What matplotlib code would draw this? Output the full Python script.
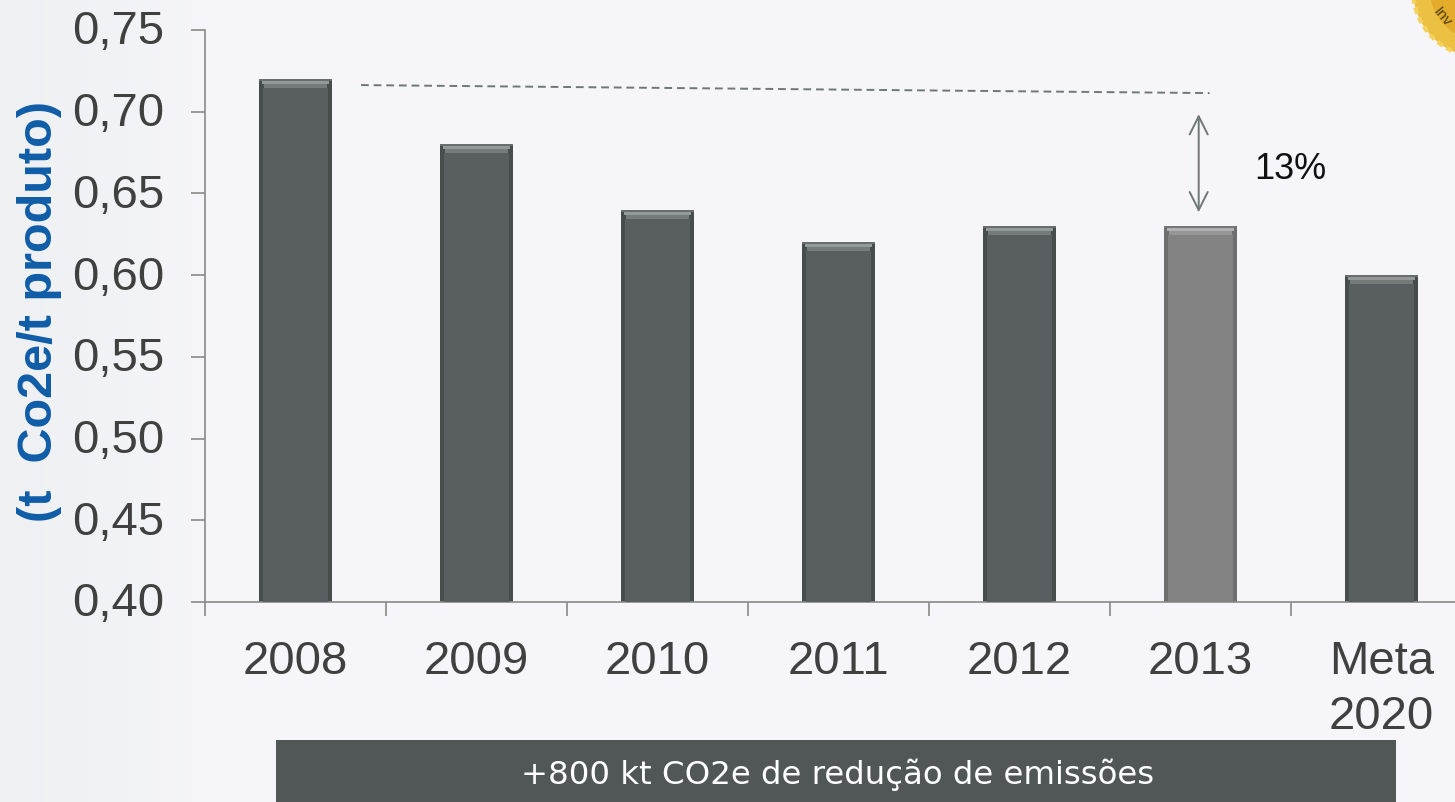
import numpy as np
import matplotlib.pyplot as plt
from matplotlib.patches import Circle, Rectangle
from matplotlib.transforms import ScaledTranslation

years = ['2008', '2009', '2010', '2011', '2012', '2013', 'Meta\n2020']
values = [0.72, 0.68, 0.64, 0.62, 0.63, 0.63, 0.60]
y_ticks = [0.40, 0.45, 0.50, 0.55, 0.60, 0.65, 0.70, 0.75]
y_labels = ['0,40', '0,45', '0,50', '0,55', '0,60', '0,65', '0,70', '0,75']
bar_colors = ['#595f60', '#595f60', '#595f60', '#595f60', '#595f60', '#828282', '#595f60']
edge_colors = ['#474c4d', '#474c4d', '#474c4d', '#474c4d', '#474c4d', '#6e6e6e', '#474c4d']
rim_colors = ['#686e6e', '#686e6e', '#686e6e', '#686e6e', '#686e6e', '#757575', '#686e6e']
top_colors = ['#939999', '#939999', '#939999', '#939999', '#939999', '#b0b0b0', '#939999']
mid_colors = ['#757b7b', '#757b7b', '#757b7b', '#757b7b', '#757b7b', '#969696', '#757b7b']

W, H = 1455, 802
plt.rcParams['font.family'] = ['Liberation Sans', 'DejaVu Sans']

fig = plt.figure(figsize=(W / 100, H / 100), dpi=100, facecolor='#f5f5fa')

# soft grey fade on the left of the slide
bg = fig.add_axes([0, 0, 1, 1], zorder=0)
fade = np.ones((1, 200, 3)) * np.array([245, 245, 250]) / 255
fade[0, :30] = np.linspace([238, 240, 242], [245, 245, 250], 30) / 255
bg.imshow(fade, aspect='auto')
bg.axis('off')

ax = fig.add_axes([205 / W, 1 - 602 / H, 7 * 181 / W, 572 / H], zorder=1)
ax.patch.set_alpha(0)
x = np.arange(len(years))
tops = np.array(values)
px = 0.35 / 572  # one pixel in data units
ax.bar(x, values, width=0.40, color=edge_colors, zorder=2)
ax.bar(x, values, width=0.36, color=bar_colors, zorder=3)
# bevel along the top of each bar
ax.bar(x, 9 * px, bottom=tops - 9 * px, width=0.40, color=edge_colors, zorder=4)
ax.bar(x, 4 * px, bottom=tops - 9 * px, width=0.345, color=mid_colors, zorder=5)
ax.bar(x, 3 * px, bottom=tops - 5 * px, width=0.365, color=top_colors, zorder=5)
ax.bar(x, 2 * px, bottom=tops - 2 * px, width=0.40, color=rim_colors, zorder=5)

ax.set_xlim(-0.5, 6.5)
ax.set_ylim(0.40, 0.75)
ax.set_yticks(y_ticks)
ax.set_yticklabels(y_labels)
ax.set_xticks(np.arange(-0.5, 7, 1), minor=False)
ax.set_xticklabels([])
ax.set_xticks(x, minor=True)
ax.set_xticklabels(years, minor=True, linespacing=1.35)
for s in ['top', 'right']:
    ax.spines[s].set_visible(False)
for s in ['left', 'bottom']:
    ax.spines[s].set_color('#8a8a8a')
    ax.spines[s].set_linewidth(1.2)
ax.tick_params(axis='y', length=10, width=1.2, color='#8a8a8a', labelsize=34, labelcolor='#404040', pad=19)
ax.tick_params(axis='x', which='major', length=10, width=1.2, color='#8a8a8a')
ax.tick_params(axis='x', which='minor', length=0, labelsize=34, labelcolor='#404040', pad=27)
lift = ScaledTranslation(0, 2.5 / 100, fig.dpi_scale_trans)
for lab in ax.get_yticklabels():
    lab.set_transform(lab.get_transform() + lift)

# reference line and the 13% gap
ax.plot([0.362, 5.05], [0.7163, 0.7114], color='#6f7777', lw=1.4, ls=(0, (4, 2.5)), zorder=6)
ax.annotate('', xy=(4.99, 0.6985), xytext=(4.99, 0.6385),
            arrowprops=dict(arrowstyle='<->,head_width=0.65,head_length=1.3', color='#6f7777', lw=1.4, shrinkA=0, shrinkB=0))
ax.text(5.495, 0.6645, '13%', fontsize=26, color='#111111', ha='center', va='center')

fig.text(40 / W, 1 - 311 / H, '(t  Co2e/t produto)', rotation=90, fontsize=35, fontweight='bold',
         color='#0f5ca8', ha='center', va='center')

# overlay in pixel units for banner and seal
top = fig.add_axes([0, 0, 1, 1], zorder=2)
top.set_xlim(0, W)
top.set_ylim(H, 0)
top.axis('off')
top.add_patch(Rectangle((276, 740), 1120, 62, color='#515757', lw=0))
top.text(838, 775, '+800 kt CO2e de redução de emissões', fontsize=23.3, color='white',
         family='DejaVu Sans', ha='center', va='center')
top.add_patch(Circle((1480, -10), 67, facecolor='#ecc043', edgecolor='#f5d25c', lw=3, ls=(0, (1.5, 1))))
top.add_patch(Circle((1480, -10), 50, color='#e3ac2b', lw=0))
top.text(1442, 17, 'Inv', fontsize=11, rotation=-50, color='#4d3d18', ha='center', va='center')

fig.savefig('out.png', dpi=100, facecolor=fig.get_facecolor())
